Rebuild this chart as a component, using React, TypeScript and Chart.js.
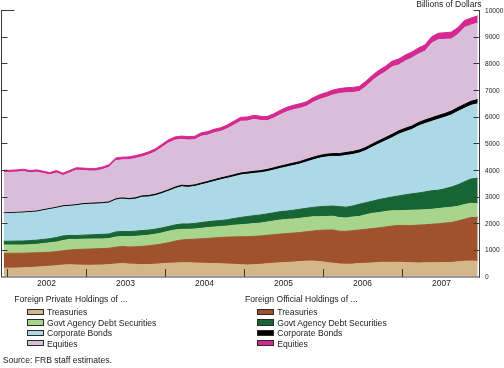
import React, { useEffect, useRef } from "react";
import { Chart, registerables } from "chart.js";

Chart.register(...registerables);

// Monthly observations, Dec 2001 .. Dec 2007
const firstYear = 2001;
const firstMonth = 12;
const monthCount = 73;
const months: string[] = [];
for (let i = 0; i < monthCount; i++) {
  const t = firstMonth - 1 + i;
  const yr = firstYear + Math.floor(t / 12);
  const mo = (t % 12) + 1;
  months.push(`${yr}-${String(mo).padStart(2, "0")}`);
}

// Billions of dollars
const privateTreasuries = [308, 315, 319, 326, 338, 353, 368, 386, 405, 432, 439, 432, 424, 420, 428, 432, 447, 469, 484, 469, 458, 443, 447, 462, 480, 495, 507, 514, 518, 510, 499, 492, 484, 477, 469, 458, 439, 432, 443, 458, 477, 499, 514, 529, 540, 559, 578, 582, 559, 529, 499, 473, 458, 465, 488, 495, 510, 529, 533, 529, 533, 525, 514, 507, 514, 518, 518, 522, 525, 552, 574, 582, 570];
const officialTreasuries = [563, 556, 552, 548, 544, 536, 533, 526, 529, 532, 555, 577, 597, 608, 611, 615, 615, 630, 645, 638, 656, 686, 705, 720, 740, 770, 818, 856, 870, 890, 916, 938, 964, 990, 1009, 1028, 1051, 1061, 1065, 1062, 1069, 1069, 1077, 1081, 1089, 1092, 1103, 1125, 1175, 1212, 1246, 1227, 1238, 1254, 1257, 1276, 1287, 1298, 1328, 1362, 1384, 1389, 1396, 1422, 1426, 1441, 1459, 1482, 1501, 1531, 1576, 1632, 1651];
const privateAgency = [311, 311, 311, 308, 311, 319, 334, 353, 361, 383, 398, 383, 379, 379, 372, 363, 360, 383, 372, 390, 394, 398, 398, 405, 412, 431, 420, 401, 383, 382, 394, 405, 409, 409, 417, 439, 454, 469, 477, 484, 499, 515, 529, 533, 529, 533, 533, 537, 510, 510, 518, 510, 499, 514, 506, 548, 575, 571, 578, 578, 552, 563, 578, 566, 567, 563, 571, 574, 574, 551, 552, 533, 507];
const officialAgency = [139, 143, 146, 150, 154, 154, 157, 153, 168, 173, 150, 146, 150, 154, 161, 173, 173, 188, 188, 188, 192, 195, 191, 188, 188, 180, 187, 199, 199, 207, 214, 221, 226, 222, 236, 251, 271, 289, 296, 304, 304, 307, 312, 311, 330, 338, 345, 349, 375, 383, 379, 413, 405, 412, 458, 450, 454, 488, 495, 514, 555, 589, 615, 638, 667, 694, 690, 713, 758, 807, 855, 912, 957];
const privateCorporate = [1035, 1043, 1046, 1054, 1056, 1060, 1078, 1097, 1097, 1095, 1092, 1118, 1143, 1147, 1146, 1146, 1160, 1196, 1215, 1192, 1203, 1251, 1246, 1257, 1286, 1320, 1360, 1397, 1377, 1387, 1416, 1446, 1485, 1534, 1556, 1570, 1594, 1587, 1586, 1584, 1584, 1602, 1623, 1656, 1677, 1698, 1742, 1782, 1823, 1852, 1865, 1883, 1943, 1934, 1925, 1958, 2031, 2090, 2157, 2227, 2316, 2367, 2412, 2512, 2564, 2603, 2663, 2684, 2706, 2752, 2755, 2764, 2797];
const officialCorporate = [30, 30, 32, 32, 33, 33, 35, 35, 36, 37, 38, 38, 40, 40, 42, 42, 44, 45, 46, 47, 48, 50, 51, 52, 54, 55, 57, 58, 60, 62, 63, 65, 67, 68, 70, 72, 74, 76, 78, 80, 82, 84, 86, 88, 90, 92, 95, 97, 100, 102, 104, 106, 108, 110, 112, 115, 118, 120, 122, 124, 126, 128, 130, 132, 134, 136, 138, 140, 143, 146, 149, 152, 155];
const privateEquities = [1521, 1509, 1512, 1526, 1453, 1461, 1362, 1264, 1292, 1138, 1215, 1295, 1244, 1214, 1200, 1241, 1298, 1436, 1427, 1458, 1480, 1463, 1529, 1588, 1679, 1756, 1768, 1722, 1716, 1695, 1760, 1739, 1757, 1747, 1794, 1869, 1942, 1921, 1953, 1886, 1827, 1867, 1931, 1985, 2002, 2001, 1990, 2063, 2104, 2133, 2201, 2256, 2242, 2214, 2192, 2282, 2373, 2437, 2468, 2532, 2473, 2527, 2554, 2570, 2585, 2799, 2845, 2784, 2709, 2744, 2884, 2861, 2873];
const officialEquities = [80, 80, 82, 82, 85, 85, 85, 85, 88, 88, 90, 90, 92, 92, 95, 95, 98, 100, 102, 105, 105, 108, 110, 112, 115, 118, 120, 122, 125, 128, 130, 132, 135, 138, 140, 145, 148, 150, 152, 155, 158, 160, 163, 165, 168, 170, 172, 175, 178, 180, 183, 185, 188, 190, 195, 198, 200, 205, 210, 215, 220, 222, 225, 230, 235, 240, 245, 250, 255, 258, 262, 265, 270];

const yTicks = [0, 1000, 2000, 3000, 4000, 5000, 6000, 7000, 8000, 9000, 10000];
const yearLabels = ["2002", "2003", "2004", "2005", "2006", "2007"];
const legendItems = ["Treasuries", "Govt Agency Debt Securities", "Corporate Bonds", "Equities"];
const privateHeader = "Foreign Private Holdings of ...";
const officialHeader = "Foreign Official Holdings of ...";
const titleText = "Billions of Dollars";
const sourceText = "Source: FRB staff estimates.";

const COLORS = {
  privateTreasuries: "#D4B68B",
  officialTreasuries: "#A0522D",
  privateAgency: "#A7D58C",
  officialAgency: "#176535",
  privateCorporate: "#ADD9E6",
  officialCorporate: "#000000",
  privateEquities: "#D9BDD9",
  officialEquities: "#D62891",
};

const FONT = "'Liberation Sans', Arial, Helvetica, sans-serif";

const series = [
  { label: "Foreign Private Holdings of Treasuries", data: privateTreasuries, color: COLORS.privateTreasuries },
  { label: "Foreign Official Holdings of Treasuries", data: officialTreasuries, color: COLORS.officialTreasuries },
  { label: "Foreign Private Holdings of Govt Agency Debt Securities", data: privateAgency, color: COLORS.privateAgency },
  { label: "Foreign Official Holdings of Govt Agency Debt Securities", data: officialAgency, color: COLORS.officialAgency },
  { label: "Foreign Private Holdings of Corporate Bonds", data: privateCorporate, color: COLORS.privateCorporate },
  { label: "Foreign Official Holdings of Corporate Bonds", data: officialCorporate, color: COLORS.officialCorporate },
  { label: "Foreign Private Holdings of Equities", data: privateEquities, color: COLORS.privateEquities },
  { label: "Foreign Official Holdings of Equities", data: officialEquities, color: COLORS.officialEquities },
];

function monthToX(m: string): number {
  const [y, mo] = m.split("-").map(Number);
  return y + (mo - 0.5) / 12;
}

const X_MIN = 2001.9367;
const X_MAX = 2007.9747;

const axesPlugin = {
  id: "customAxes",
  afterDatasetsDraw(chart: any) {
    const { ctx, chartArea, scales } = chart;
    const xs = scales.x;
    const ys = scales.y;
    const left = 1.5;
    const right = 479.5;
    const top = ys.getPixelForValue(10000);
    const bottom = 277;
    ctx.save();
    ctx.strokeStyle = "#3a3a3a";
    ctx.lineWidth = 1;
    ctx.beginPath();
    // left axis
    ctx.moveTo(left, top);
    ctx.lineTo(left, bottom);
    // right axis
    ctx.moveTo(right, top);
    ctx.lineTo(right, bottom + 0.5);
    // bottom axis
    ctx.moveTo(left - 0.5, bottom);
    ctx.lineTo(right + 0.5, bottom);
    ctx.stroke();

    // y ticks
    ctx.beginPath();
    yTicks.forEach((v) => {
      if (v === 0) return;
      const py = Math.round(ys.getPixelForValue(v)) + 0.5;
      ctx.moveTo(left, py);
      ctx.lineTo(left + (v === 10000 ? 13 : 6), py);
      ctx.moveTo(right, py);
      ctx.lineTo(right - 6, py);
    });
    // x ticks at year boundaries
    yearLabels.forEach((yl) => {
      const px = Math.round(xs.getPixelForValue(Number(yl))) + 0.5;
      ctx.moveTo(px, bottom);
      ctx.lineTo(px, bottom - 8);
    });
    ctx.stroke();

    ctx.fillStyle = "#222";
    // y labels
    ctx.font = `6.6px ${FONT}`;
    ctx.textAlign = "left";
    ctx.textBaseline = "alphabetic";
    yTicks.forEach((v) => {
      const py = ys.getPixelForValue(v);
      ctx.fillText(String(v), 485, py + 2.6);
    });
    // year labels
    ctx.font = `8.5px ${FONT}`;
    ctx.textAlign = "center";
    yearLabels.forEach((yl) => {
      const px = xs.getPixelForValue(Number(yl) + 0.5);
      ctx.fillText(yl, px, 286.3);
    });
    // title
    ctx.textAlign = "right";
    ctx.fillText(titleText, 481.5, 7.2);
    ctx.restore();
  },
};

const legendFont = 8.6;
const rowTop0 = 308.3;
const rowStep = 10.45;

function LegendColumn(props: { header: string; x: number; swatchX: number; textX: number; colors: string[] }) {
  const { header, x, swatchX, textX, colors } = props;
  const textStyle: React.CSSProperties = {
    position: "absolute",
    fontFamily: FONT,
    fontSize: legendFont + "px",
    lineHeight: legendFont + "px",
    color: "#1a1a1a",
    whiteSpace: "nowrap",
  };
  return (
    <>
      <div style={{ ...textStyle, left: x, top: 295 }}>{header}</div>
      {legendItems.map((t, k) => (
        <React.Fragment key={t}>
          <div
            style={{
              position: "absolute",
              left: swatchX,
              top: rowTop0 + k * rowStep + 0.4,
              width: 16.5,
              height: 6.4,
              boxSizing: "border-box",
              border: "1px solid #2a2a2a",
              background: colors[k],
            }}
          />
          <div style={{ ...textStyle, left: textX, top: rowTop0 + k * rowStep }}>{t}</div>
        </React.Fragment>
      ))}
    </>
  );
}

export default function App() {
  const canvasRef = useRef<HTMLCanvasElement | null>(null);

  useEffect(() => {
    if (!canvasRef.current) return;
    const datasets = series.map((s, idx) => ({
      label: s.label,
      data: months.map((m, i) => ({ x: monthToX(m), y: s.data[i] })),
      backgroundColor: s.color,
      borderColor: s.color,
      borderWidth: 1,
      pointRadius: 0,
      pointHoverRadius: 0,
      tension: 0,
      fill: idx === 0 ? "origin" : "-1",
    }));
    const chart = new Chart(canvasRef.current, {
      type: "line",
      data: { datasets: datasets as any },
      options: {
        animation: false,
        responsive: false,
        devicePixelRatio: 1,
        events: [],
        layout: { padding: { left: 2, right: 25, top: 10, bottom: 91.5 } },
        plugins: { legend: { display: false }, tooltip: { enabled: false }, title: { display: false } },
        scales: {
          x: { type: "linear", min: X_MIN, max: X_MAX, display: false },
          y: { type: "linear", min: 0, max: 10000, stacked: true, display: false },
        },
      },
      plugins: [axesPlugin],
    });
    return () => chart.destroy();
  }, []);

  return (
    <div style={{ position: "absolute", left: 0, top: 0, width: 504, height: 368, background: "#fff" }}>
      <canvas ref={canvasRef} width={504} height={368} style={{ position: "absolute", left: 0, top: 0, width: 504, height: 368 }} />
      <LegendColumn
        header={privateHeader}
        x={14.3}
        swatchX={27.3}
        textX={47}
        colors={[COLORS.privateTreasuries, COLORS.privateAgency, COLORS.privateCorporate, COLORS.privateEquities]}
      />
      <LegendColumn
        header={officialHeader}
        x={245}
        swatchX={257.3}
        textX={277.3}
        colors={[COLORS.officialTreasuries, COLORS.officialAgency, COLORS.officialCorporate, COLORS.officialEquities]}
      />
      <div
        style={{
          position: "absolute",
          left: 2.7,
          top: 356.2,
          fontFamily: FONT,
          fontSize: legendFont + "px",
          lineHeight: legendFont + "px",
          color: "#1a1a1a",
          whiteSpace: "nowrap",
        }}
      >
        {sourceText}
      </div>
    </div>
  );
}
